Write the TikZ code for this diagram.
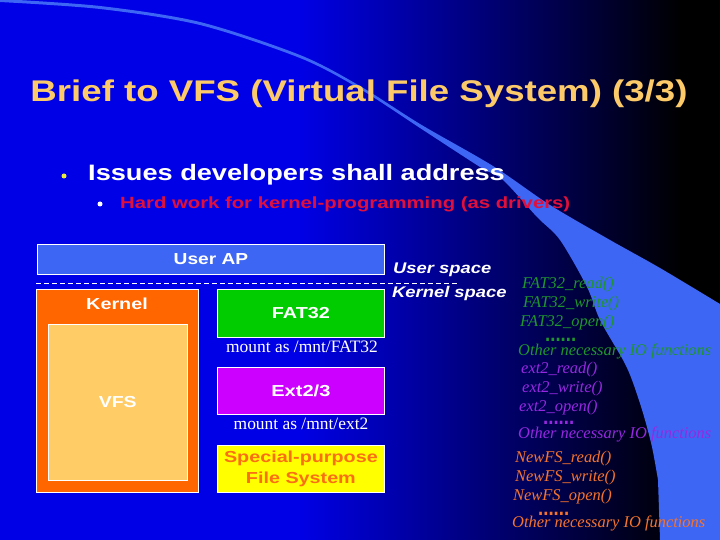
\documentclass[tikz,border=0pt]{standalone}
\usepackage{fontspec}
\setmainfont{Liberation Serif}
\setsansfont{Liberation Sans}
\usepackage{graphicx}
\definecolor{bgblue}{RGB}{0,0,230}
\definecolor{wedge}{RGB}{62,102,245}
\definecolor{userblue}{RGB}{62,102,245}
\definecolor{titlecol}{RGB}{252,202,105}
\definecolor{hardred}{RGB}{225,15,60}
\definecolor{kernelor}{RGB}{255,102,0}
\definecolor{vfsfill}{RGB}{255,204,102}
\definecolor{fatgreen}{RGB}{0,204,0}
\definecolor{extpurple}{RGB}{204,0,255}
\definecolor{specyel}{RGB}{255,255,0}
\definecolor{spectext}{RGB}{250,110,20}
\definecolor{fngreen}{RGB}{30,150,45}
\definecolor{fnpurple}{RGB}{150,40,225}
\definecolor{fnorange}{RGB}{245,115,45}
\definecolor{bulletyel}{RGB}{235,235,60}
\newcommand{\stretchx}[2]{\scalebox{#1}[1]{#2}}
\tikzset{
  box/.style={draw=white, line width=0.8bp, anchor=north west, inner sep=0pt},
  boxlbl/.style={text=white, inner sep=0pt, font=\sffamily\bfseries\fontsize{16}{18}\selectfont},
  fn/.style={anchor=base west, inner sep=0pt, font=\rmfamily\itshape\fontsize{16.5}{18}\selectfont},
  mnt/.style={anchor=base, inner sep=0pt, text=white, font=\rmfamily\fontsize{17.5}{20}\selectfont},
  dotrow/.style={anchor=base west, inner sep=0pt, font=\sffamily\bfseries\fontsize{22}{22}\selectfont},
  spacelbl/.style={anchor=base west, inner sep=0pt, text=white, font=\sffamily\bfseries\itshape\fontsize{15.5}{18}\selectfont},
  bulletdot/.style={circle, inner sep=0pt, minimum size=5bp}
}
\begin{document}
\begin{tikzpicture}[x=1bp,y=-1bp]
\useasboundingbox (0,0) rectangle (720,540);
% background
\fill[bgblue] (0,0) rectangle (300,540);
\shade[left color=bgblue, right color=black] (299,0) rectangle (682,540);
\fill[black] (681,0) rectangle (720,540);
% light sweep
\fill[wedge] plot[smooth] coordinates {(0,-1) (100,6) (200,22) (300,55) (360,86) (420,124) (493,166) (550,205) (610,240) (660,268) (720,304)}
  -- (720,540) -- (660,540)
  -- plot[smooth] coordinates {(658,480) (652,447) (643,413) (632,380) (623,360) (600,320) (587,287) (560,240) (537,217) (503,180) (480,167) (420,128) (360,89) (300,58) (200,25) (100,9) (0,2)}
  -- cycle;
% title and bullets
\node[anchor=base, inner sep=0pt, text=titlecol, font=\sffamily\bfseries\fontsize{30}{30}\selectfont] (title) at (359,102) {\stretchx{1.226}{Brief to VFS (Virtual File System) (3/3)}};
\node[bulletdot, fill=bulletyel] (b1) at (64,176) {};
\node[anchor=base west, inner sep=0pt, text=white, font=\sffamily\bfseries\fontsize{22.4}{24}\selectfont] (issues) at (88,181) {\stretchx{1.217}{Issues developers shall address}};
\node[bulletdot, fill=white] (b2) at (100,204) {};
\node[anchor=base west, inner sep=0pt, text=hardred, font=\sffamily\bfseries\fontsize{16.3}{18}\selectfont] (hard) at (120,209) {\stretchx{1.25}{Hard work for kernel-programming (as drivers)}};
% boxes
\node[box, fill=userblue, minimum width=347bp, minimum height=30bp] (userap) at (37,244) {};
\node[boxlbl] (userapl) at (userap.center) {\stretchx{1.2}{User AP}};
\coordinate (dashL) at (36,283);
\coordinate (dashR) at (460,283);
\draw[white, line width=0.8bp, dash pattern=on 5bp off 3bp] (dashL) -- (dashR);
\node[box, fill=kernelor, minimum width=162bp, minimum height=203bp] (kernel) at (36,289) {};
\node[boxlbl, anchor=center] (kernell) at (117,304) {\stretchx{1.24}{Kernel}};
\node[box, fill=vfsfill, line width=0.6bp, minimum width=139bp, minimum height=156bp] (vfs) at (48,324) {};
\node[boxlbl] (vfsl) at (vfs.center) {\stretchx{1.22}{VFS}};
\node[box, fill=fatgreen, minimum width=167bp, minimum height=48bp] (fat) at (217,289) {};
\node[boxlbl] (fatl) at (fat.center) {\stretchx{1.24}{FAT32}};
\node[mnt] (mntfat) at (302,352) {mount as /mnt/FAT32};
\node[box, fill=extpurple, minimum width=167bp, minimum height=47bp] (ext) at (217,367) {};
\node[boxlbl] (extl) at (ext.center) {\stretchx{1.26}{Ext2/3}};
\node[mnt] (mntext) at (301,429) {mount as /mnt/ext2};
\node[box, fill=specyel, minimum width=167bp, minimum height=47bp] (spec) at (217,445) {};
\node[boxlbl, text=spectext, align=center, font=\sffamily\bfseries\fontsize{16}{21}\selectfont] (specl) at (spec.center) {\stretchx{1.24}{Special-purpose}\\\stretchx{1.24}{File System}};
% space labels
\node[spacelbl] (uspace) at (393,274) {\stretchx{1.19}{User space}};
\node[spacelbl] (kspace) at (392,297) {\stretchx{1.19}{Kernel space}};
% FAT32 functions
\node[fn, text=fngreen] (f1) at (522,288) {FAT32\_read()};
\node[fn, text=fngreen] (f2) at (523,307) {FAT32\_write()};
\node[fn, text=fngreen] (f3) at (520,326) {FAT32\_open()};
\node[dotrow, text=fngreen] (f4) at (545,341) {\stretchx{0.85}{......}};
\node[fn, text=fngreen] (f5) at (518,355) {Other necessary IO functions};
% ext2 functions
\node[fn, text=fnpurple] (e1) at (521,373) {ext2\_read()};
\node[fn, text=fnpurple] (e2) at (522,392) {ext2\_write()};
\node[fn, text=fnpurple] (e3) at (519,411) {ext2\_open()};
\node[dotrow, text=fnpurple] (e4) at (543,424) {\stretchx{0.85}{......}};
\node[fn, text=fnpurple] (e5) at (518,438) {Other necessary IO functions};
% NewFS functions
\node[fn, text=fnorange] (n1) at (515,462) {NewFS\_read()};
\node[fn, text=fnorange] (n2) at (515,481) {NewFS\_write()};
\node[fn, text=fnorange] (n3) at (513,500) {NewFS\_open()};
\node[dotrow, text=fnorange] (n4) at (538,515) {\stretchx{0.85}{......}};
\node[fn, text=fnorange] (n5) at (512,527) {Other necessary IO functions};
\end{tikzpicture}
\end{document}
